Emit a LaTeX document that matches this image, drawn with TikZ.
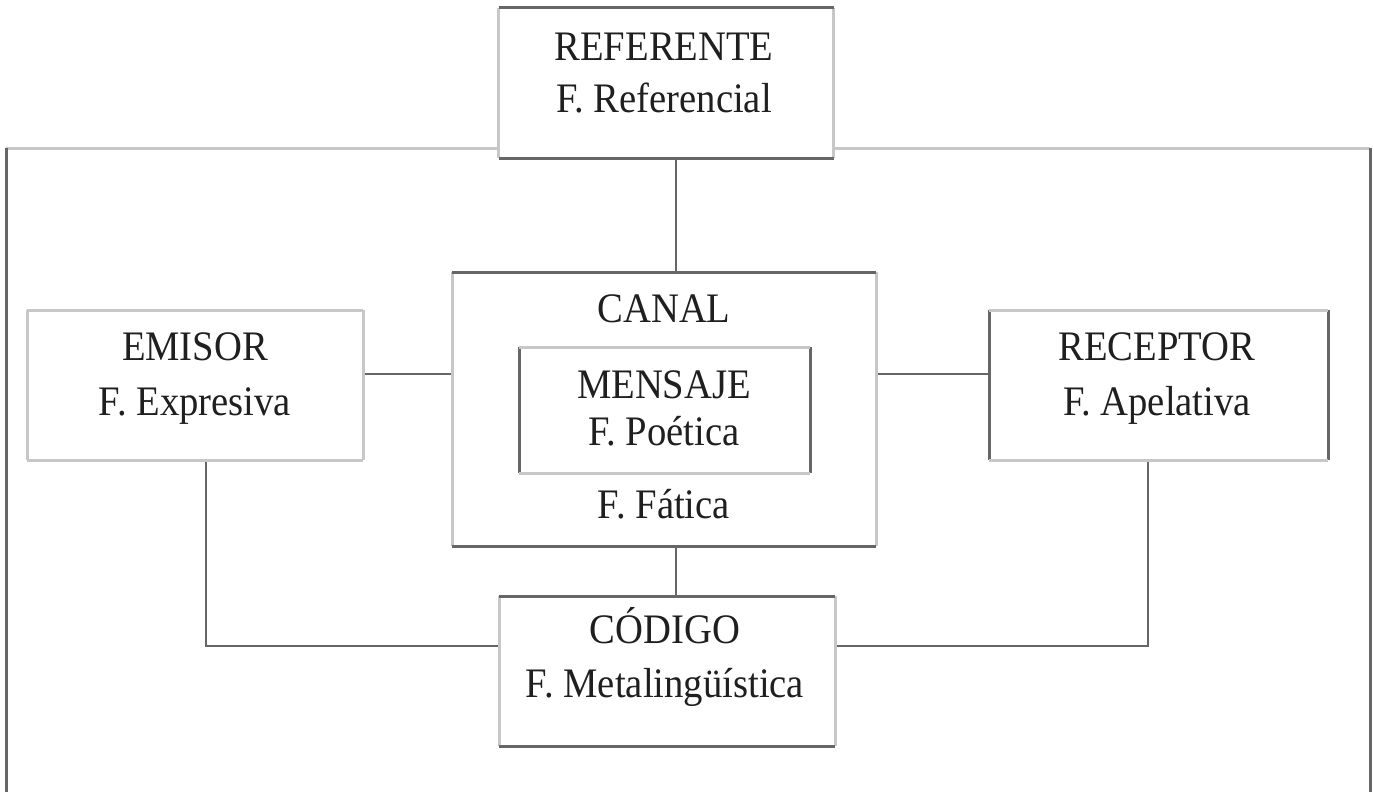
\documentclass[tikz,border=0pt]{standalone}
\usepackage{fontspec}
\setmainfont{Liberation Serif}[FakeStretch=0.92]
\tikzset{
  box/.style={rectangle, inner sep=0pt, outer sep=0pt},
  lbl/.style={anchor=base, inner sep=0pt, font=\fontsize{42}{50}\selectfont, text=black!88},
  lt/.style={draw=black!22, line width=3pt},
  dk/.style={draw=black!60, line width=3pt},
  conn/.style={draw=black!60, line width=2.5pt},
  thinconn/.style={draw=black!60, line width=1.5pt},
}
\newcommand\boxsides[5]{%
  \draw[#5] (#1.north west) -- (#1.south west);
  \draw[#3] (#1.north east) -- (#1.south east);
  \draw[#2] (#1.north west) -- (#1.north east);
  \draw[#4] (#1.south west) -- (#1.south east);
}
\begin{document}
\begin{tikzpicture}[x=1pt,y=-1pt]
\useasboundingbox (0,0) rectangle (1374,792);
\fill[white] (0,0) rectangle (1374,792);

% boxes
\node[box, minimum width=335pt, minimum height=150pt] (ref) at (666,83) {};
\node[box, minimum width=424pt, minimum height=274pt] (canal) at (664,409) {};
\node[box, minimum width=291pt, minimum height=126pt] (mensaje) at (664.5,410) {};
\node[box, minimum width=336pt, minimum height=150pt] (emisor) at (195,385) {};
\node[box, minimum width=339pt, minimum height=150pt] (receptor) at (1158.5,385) {};
\node[box, minimum width=336pt, minimum height=150pt] (codigo) at (667,671) {};

% helper coordinates
\coordinate (ftl) at (6,148);
\coordinate (ftr) at (1370,148);
\coordinate (fbl) at (6,792);
\coordinate (fbr) at (1370,792);
\coordinate (vx) at (676,0);
\coordinate (hy) at (0,374);
\coordinate (cy) at (0,646);
\coordinate (ex) at (206,0);
\coordinate (rx) at (1148,0);

% outer frame
\draw[lt] (ftl) -- (ftl -| ref.west);
\draw[lt] (ref.east |- ftr) -- (ftr);
\draw[dk] (ftl) -- (fbl);
\draw[dk] (ftr) -- (fbr);

% connectors
\draw[thinconn] (ref.south -| vx) -- (canal.north -| vx);
\draw[thinconn] (canal.south -| vx) -- (codigo.north -| vx);
\draw[conn] (emisor.east |- hy) -- (canal.west |- hy);
\draw[conn] (canal.east |- hy) -- (receptor.west |- hy);
\draw[conn] (emisor.south -| ex) |- (codigo.west |- cy);
\draw[conn] (receptor.south -| rx) |- (codigo.east |- cy);

% box borders
\boxsides{ref}{dk}{lt}{dk}{lt}
\boxsides{canal}{dk}{lt}{dk}{lt}
\boxsides{codigo}{dk}{lt}{dk}{lt}
\boxsides{mensaje}{lt}{dk}{lt}{dk}
\boxsides{emisor}{lt}{lt}{lt}{lt}
\boxsides{receptor}{lt}{dk}{lt}{dk}

% texts
\node[lbl] (ref1) at (664,60) {REFERENTE};
\node[lbl] (ref2) at (664,112) {F. Referencial};
\node[lbl] (can1) at (664,322) {CANAL};
\node[lbl] (men1) at (664,398) {MENSAJE};
\node[lbl] (men2) at (664,445) {F. Poética};
\node[lbl] (can2) at (664,518) {F. Fática};
\node[lbl] (emi1) at (195,360) {EMISOR};
\node[lbl] (emi2) at (195,415) {F. Expresiva};
\node[lbl] (rec1) at (1157,360) {RECEPTOR};
\node[lbl] (rec2) at (1157,415) {F. Apelativa};
\node[lbl] (cod1) at (665,643) {CÓDIGO};
\node[lbl] (cod2) at (665,697) {F. Metalingüística};
\end{tikzpicture}
\end{document}
